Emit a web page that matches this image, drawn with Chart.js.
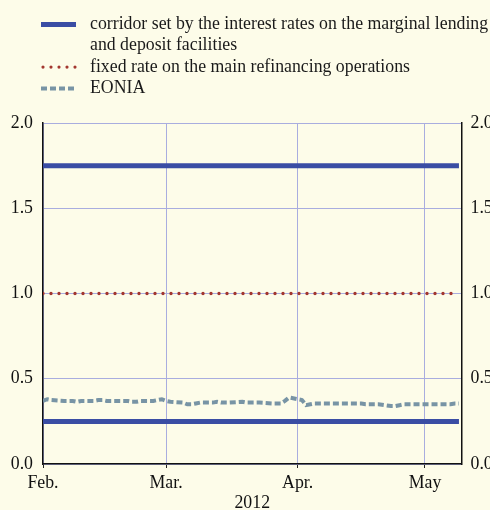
<!DOCTYPE html>
<html lang="en">
<head>
    <meta charset="UTF-8">
    <title>Key ECB interest rates and EONIA</title>
    <script src="https://cdn.jsdelivr.net/npm/chart.js"></script>
    <style>
        body {
            margin: 0;
            padding: 0;
            background-color: #fdfce9;
            overflow: hidden;
        }
        .chart-container {
            width: 520px;  /* wider than the window so the right axis labels get cut off */
            height: 510px;
        }
    </style>
</head>
<body>
    <div class="chart-container">
        <canvas id="myChart" width="520" height="510"></canvas>
    </div>

    <script>
        // x axis
        const monthTicks = ['2012-02-01', '2012-03-01', '2012-04-01', '2012-05-01'];
        const monthLabels = ['Feb.', 'Mar.', 'Apr.', 'May'];
        const yearLabel = '2012';

        // corridor and MRO rate (flat over the period)
        const corridorDates = ['2012-02-01', '2012-05-09'];
        const marginalLendingRate = [1.75, 1.75];
        const depositFacilityRate = [0.25, 0.25];
        const mainRefiRate = [1.00, 1.00];

        // EONIA, daily
        const eoniaDates = [
            '2012-02-01', '2012-02-02', '2012-02-03', '2012-02-06', '2012-02-07', '2012-02-08', '2012-02-09', '2012-02-10',
            '2012-02-13', '2012-02-14', '2012-02-15', '2012-02-16', '2012-02-17', '2012-02-20', '2012-02-21', '2012-02-22',
            '2012-02-23', '2012-02-24', '2012-02-27', '2012-02-28', '2012-02-29',
            '2012-03-01', '2012-03-02', '2012-03-05', '2012-03-06', '2012-03-07', '2012-03-08', '2012-03-09', '2012-03-12',
            '2012-03-13', '2012-03-14', '2012-03-15', '2012-03-16', '2012-03-19', '2012-03-20', '2012-03-21', '2012-03-22',
            '2012-03-23', '2012-03-26', '2012-03-27', '2012-03-28', '2012-03-29', '2012-03-30',
            '2012-04-02', '2012-04-03', '2012-04-04', '2012-04-05', '2012-04-10', '2012-04-11', '2012-04-12', '2012-04-13',
            '2012-04-16', '2012-04-17', '2012-04-18', '2012-04-19', '2012-04-20', '2012-04-23', '2012-04-24', '2012-04-25',
            '2012-04-26', '2012-04-27', '2012-04-30',
            '2012-05-02', '2012-05-03', '2012-05-04', '2012-05-07', '2012-05-08', '2012-05-09'
        ];
        const eoniaValues = [
            0.37, 0.38, 0.375, 0.37, 0.37, 0.37, 0.365, 0.37,
            0.37, 0.375, 0.375, 0.37, 0.37, 0.37, 0.37, 0.365,
            0.365, 0.37, 0.37, 0.375, 0.38,
            0.37, 0.365, 0.36, 0.35, 0.35, 0.355, 0.36, 0.36,
            0.365, 0.36, 0.36, 0.36, 0.365, 0.36, 0.36, 0.36,
            0.36, 0.355, 0.355, 0.355, 0.37, 0.39,
            0.375, 0.345, 0.35, 0.355, 0.355, 0.355, 0.355, 0.355,
            0.355, 0.35, 0.35, 0.35, 0.35, 0.34, 0.34, 0.345,
            0.35, 0.35, 0.35,
            0.35, 0.35, 0.35, 0.35, 0.355, 0.355
        ];

        const legendLabels = [
            ['corridor set by the interest rates on the marginal lending', 'and deposit facilities'],
            ['fixed rate on the main refinancing operations'],
            ['EONIA']
        ];

        const FONT = "'Liberation Serif', 'Times New Roman', serif";
        const BG = '#fdfce9';
        const GRID = '#a9addf';
        const CORRIDOR_COLOR = '#3a4da4';
        const MRO_COLOR = '#a3372f';
        const EONIA_COLOR = '#7894a5';

        // days since 1 Feb 2012
        const base = Date.UTC(2012, 1, 1);
        function day(s) {
            const p = s.split('-').map(Number);
            return (Date.UTC(p[0], p[1] - 1, p[2]) - base) / 86400000;
        }
        const toPoints = (dates, vals) => dates.map((d, i) => ({ x: day(d), y: vals[i] }));

        // background + legend drawn in the top padding
        const legendSamples = [
            { color: CORRIDOR_COLOR, width: 5, dash: [], cap: 'butt' },
            { color: MRO_COLOR, width: 3.2, dash: [0, 8], cap: 'round' },
            { color: EONIA_COLOR, width: 4, dash: [6, 3], cap: 'butt' }
        ];
        const customLegend = {
            id: 'customLegend',
            beforeDraw(chart) {
                const c = chart.ctx;
                c.save();
                c.fillStyle = BG;
                c.fillRect(0, 0, chart.width, chart.height);
                c.restore();
            },
            afterDraw(chart) {
                const c = chart.ctx;
                c.save();
                c.font = '17.8px ' + FONT;
                c.fillStyle = '#1a1a1a';
                c.textBaseline = 'middle';
                let y = 24.5;
                legendLabels.forEach((lines, i) => {
                    const s = legendSamples[i];
                    c.beginPath();
                    c.strokeStyle = s.color;
                    c.lineWidth = s.width;
                    c.setLineDash(s.dash);
                    c.lineCap = s.cap;
                    c.moveTo(s.cap === 'round' ? 43 : 41, y);
                    c.lineTo(76, y);
                    c.stroke();
                    lines.forEach(t => {
                        c.fillText(t, 90, y);
                        y += 21.3;
                    });
                });
                c.restore();
            }
        };

        const ctx = document.getElementById('myChart').getContext('2d');
        const lineDefaults = { pointRadius: 0, tension: 0, fill: false };

        const myChart = new Chart(ctx, {
            type: 'line',
            data: {
                datasets: [
                    { ...lineDefaults, label: 'marginal lending', data: toPoints(corridorDates, marginalLendingRate),
                      borderColor: CORRIDOR_COLOR, borderWidth: 5 },
                    { ...lineDefaults, label: 'deposit facility', data: toPoints(corridorDates, depositFacilityRate),
                      borderColor: CORRIDOR_COLOR, borderWidth: 5 },
                    { ...lineDefaults, label: 'MRO', data: toPoints(corridorDates, mainRefiRate),
                      borderColor: MRO_COLOR, borderWidth: 3.4, borderDash: [0, 8], borderCapStyle: 'round' },
                    { ...lineDefaults, label: 'EONIA', data: toPoints(eoniaDates, eoniaValues),
                      borderColor: EONIA_COLOR, borderWidth: 4, borderDash: [6, 3] }
                ]
            },
            options: {
                responsive: false,
                animation: false,
                layout: { padding: { top: 123, left: 0, right: 0, bottom: 0 } },
                scales: {
                    x: {
                        type: 'linear',
                        min: 0,
                        max: day('2012-05-09') + 0.6,
                        afterBuildTicks: (scale) => {
                            scale.ticks = monthTicks.map(d => ({ value: day(d) }));
                        },
                        afterFit: (scale) => { scale.height = 46; },
                        ticks: {
                            autoSkip: false,
                            maxRotation: 0,
                            padding: 5,
                            color: '#111',
                            font: { family: FONT, size: 17.8 },
                            callback: (v, i) => monthLabels[i]
                        },
                        grid: { color: GRID, tickColor: '#222', tickLength: 4, lineWidth: 1 },
                        border: { color: '#111', width: 1.5 },
                        title: {
                            display: true,
                            text: yearLabel,
                            color: '#111',
                            font: { family: FONT, size: 17.8, lineHeight: 1 },
                            padding: { top: 0, bottom: -2 }
                        }
                    },
                    y: {
                        position: 'left',
                        min: 0,
                        max: 2,
                        afterFit: (scale) => { scale.width = 43; },
                        ticks: {
                            stepSize: 0.5,
                            padding: 10,
                            color: '#111',
                            font: { family: FONT, size: 17.8 },
                            callback: (v) => v.toFixed(1)
                        },
                        grid: { color: GRID, drawTicks: false },
                        border: { color: '#111', width: 1.5 }
                    },
                    y2: {
                        position: 'right',
                        min: 0,
                        max: 2,
                        afterFit: (scale) => { scale.width = 58.5; },
                        ticks: {
                            stepSize: 0.5,
                            padding: 9,
                            color: '#111',
                            font: { family: FONT, size: 17.8 },
                            callback: (v) => v.toFixed(1)
                        },
                        grid: { drawOnChartArea: false, drawTicks: false },
                        border: { color: '#111', width: 1.5 }
                    }
                },
                plugins: {
                    legend: { display: false },
                    tooltip: { enabled: false }
                }
            },
            plugins: [customLegend]
        });
    </script>
</body>
</html>
